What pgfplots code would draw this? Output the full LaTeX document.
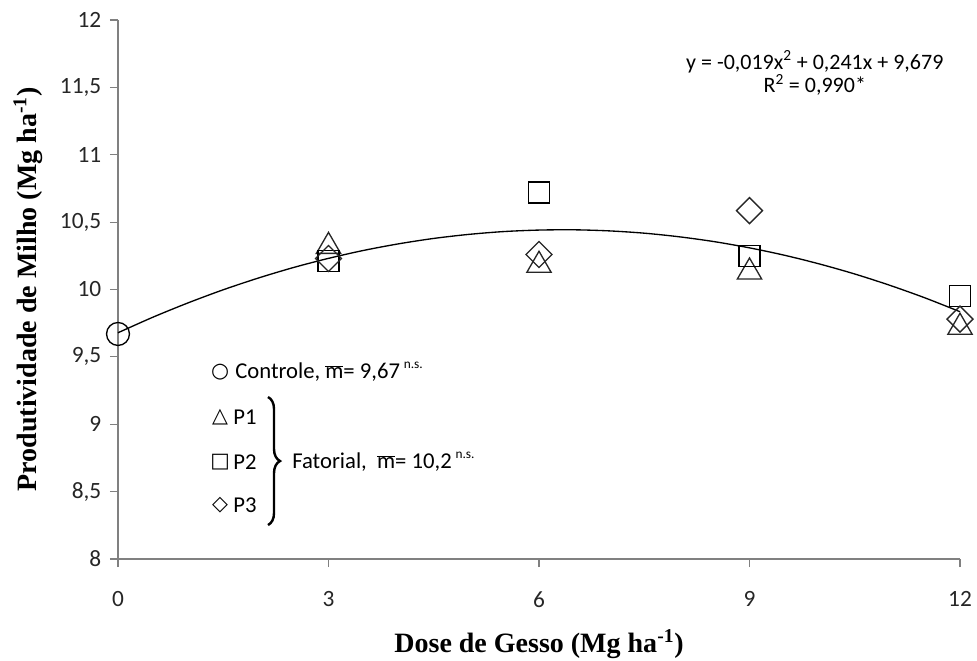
\documentclass[border=0pt]{standalone}
\usepackage{fontspec}
\setmainfont{Liberation Serif}
\newfontfamily\carlito{Carlito}
\newfontfamily\sym{DejaVu Sans}
\usepackage{pgfplots}
\pgfplotsset{compat=1.18}
\usetikzlibrary{decorations.pathreplacing,calc}

\begin{document}
\begin{tikzpicture}
\begin{axis}[
  width=631.5pt, height=404.25pt, scale only axis,
  xmin=0, xmax=12, ymin=8, ymax=12,
  axis lines*=left,
  axis line style={black!50, line width=0.9pt},
  tick style={black!50, line width=0.9pt},
  major tick length=6pt, tick align=outside,
  xtick={0,3,6,9,12}, ytick={8,8.5,9,9.5,10,10.5,11,11.5,12},
  xticklabels={0,3,6,9,12},
  yticklabels={8,{8,5},9,{9,5},10,{10,5},11,{11,5},12},
  tick label style={font=\carlito\fontsize{17.5}{20}\selectfont, text=black!85},
  xticklabel style={yshift=-15pt},
  yticklabel style={xshift=-3pt},
  xlabel={Dose de Gesso (Mg ha\textsuperscript{-1})},
  ylabel={Produtividade de Milho (Mg ha\textsuperscript{-1})},
  every axis x label/.style={at={(axis description cs:0.5,-0.1744)}, anchor=base,
    font=\bfseries\fontsize{21}{24}\selectfont},
  every axis y label/.style={at={(axis description cs:-0.1069,0.5)}, rotate=90, anchor=center,
    font=\bfseries\fontsize{21}{24}\selectfont},
  clip=false,
]
% curva ajustada
\addplot[black, line width=1pt, smooth] coordinates {
  (0,9.679) (0.5,9.795) (1,9.901) (1.5,9.998) (2,10.085) (2.5,10.163)
  (3,10.231) (3.5,10.290) (4,10.339) (4.5,10.379) (5,10.409) (5.5,10.430)
  (6,10.441) (6.5,10.443) (7,10.435) (7.5,10.418) (8,10.391) (8.5,10.355)
  (9,10.309) (9.5,10.254) (10,10.189) (10.5,10.115) (11,10.031) (11.5,9.938)
  (12,9.835) };
% controle
\addplot[only marks, mark=o, mark size=8.6pt, mark options={black, line width=1pt}] coordinates {(0,9.67)};
% P1
\addplot[only marks, mark=triangle, mark size=10.5pt, mark options={black!85, line width=1pt}] coordinates {(3,10.32) (6,10.18) (9,10.13) (12,9.72)};
% P2
\addplot[only marks, mark=square, mark size=7.9pt, mark options={black, line width=1pt}] coordinates {(3,10.21) (6,10.72) (9,10.25) (12,9.95)};
% P3
\addplot[only marks, mark=square, mark size=6.9pt, mark options={black!85, line width=1pt, rotate=45}] coordinates {(3,10.23) (6,10.26) (9,10.585) (12,9.78)};

% equacao
\node[align=center, inner sep=0pt, font=\carlito\fontsize{16.5}{17.5}\selectfont] at (axis cs:9.93,11.605)
  {y = -0,019x\textsuperscript{2} + 0,241x + 9,679\\R\textsuperscript{2} = 0,990*};

% legenda
\node[font=\sym\fontsize{15.5}{15.5}\selectfont, inner sep=0pt] at (axis cs:1.454,9.388) {○};
\node[font=\sym\fontsize{15.5}{15.5}\selectfont, inner sep=0pt] at (axis cs:1.454,9.054) {△};
\node[font=\sym\fontsize{15.5}{15.5}\selectfont, inner sep=0pt] at (axis cs:1.454,8.720) {□};
\node[font=\sym\fontsize{15.5}{15.5}\selectfont, inner sep=0pt] at (axis cs:1.454,8.401) {◇};
\node[anchor=west, inner sep=0pt, font=\carlito\fontsize{17}{20}\selectfont] at (axis cs:1.668,9.388)
  {Controle, $\overline{\mbox{m}}$= 9,67\,\raisebox{0.45em}{\fontsize{10}{10}\selectfont n.s.}};
\node[anchor=west, inner sep=0pt, font=\carlito\fontsize{17}{20}\selectfont] at (axis cs:1.64,9.054) {P1};
\node[anchor=west, inner sep=0pt, font=\carlito\fontsize{17}{20}\selectfont] at (axis cs:1.64,8.720) {P2};
\node[anchor=west, inner sep=0pt, font=\carlito\fontsize{17}{20}\selectfont] at (axis cs:1.64,8.401) {P3};
\draw[decorate, decoration={brace, amplitude=9pt}, line width=1.8pt] (axis cs:2.138,9.202) -- (axis cs:2.138,8.252);
\node[anchor=west, inner sep=0pt, font=\carlito\fontsize{17}{20}\selectfont] at (axis cs:2.48,8.720)
  {Fatorial, \ $\overline{\mbox{m}}$= 10,2\,\raisebox{0.45em}{\fontsize{10}{10}\selectfont n.s.}};
\end{axis}
\pgfresetboundingbox
\path[use as bounding box] ($(current axis.south west)+(-88.5pt,-75.75pt)$) rectangle ($(current axis.north east)+(12.75pt,15pt)$);
\end{tikzpicture}
\end{document}
